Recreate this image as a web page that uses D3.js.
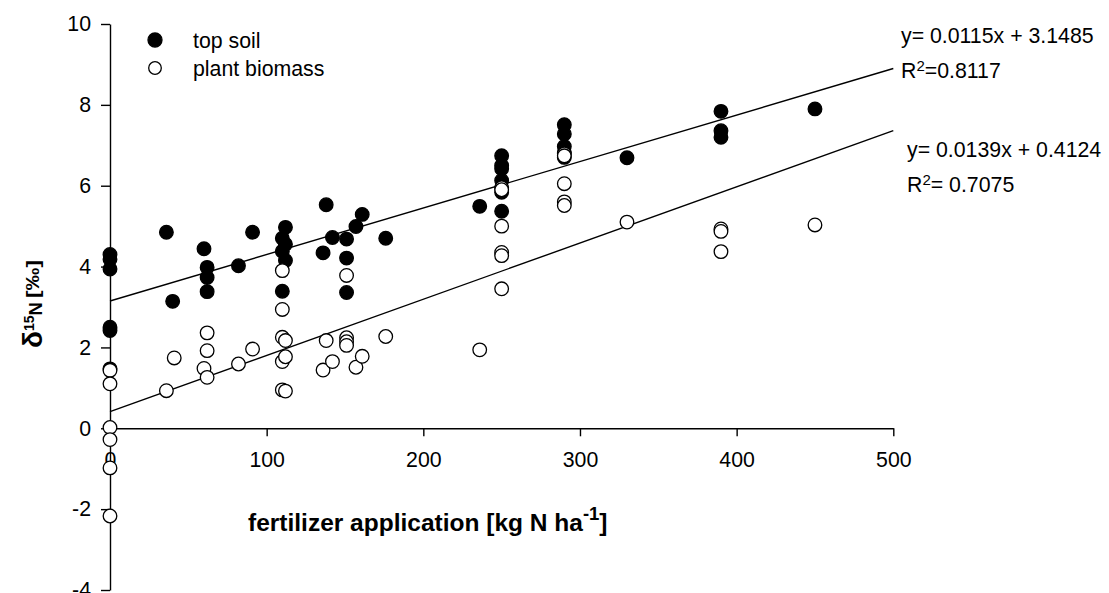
<!DOCTYPE html>
<html>
<head>
<meta charset="utf-8">
<script src="https://cdn.jsdelivr.net/npm/d3@7"></script>
<style>
  html, body { margin: 0; padding: 0; background: #fff; }
  svg { display: block; font-family: "Liberation Sans", Arial, sans-serif; }
</style>
</head>
<body>
<svg id="chart" width="1109" height="593"></svg>
<script>
// Fertilizer rate (kg N/ha) and δ15N (‰) for top soil samples
const soilN   = [0, 0, 0, 0, 0, 0, 36, 40, 60, 62, 62, 62, 82, 91, 110, 110, 110, 112, 112, 112,
                 136, 138, 142, 151, 151, 151, 157, 161, 176, 236,
                 250, 250, 250, 250, 250, 250, 290, 290, 290, 290, 290, 330, 390, 390, 390, 450];
const soilD15 = [4.30, 4.18, 3.94, 2.50, 2.42, 1.47, 4.85, 3.14, 4.44, 3.98, 3.73, 3.38, 4.02, 4.85,
                 4.70, 4.38, 3.39, 4.97, 4.55, 4.15,
                 4.34, 5.53, 4.72, 4.68, 4.21, 3.36, 4.99, 5.29, 4.70, 5.49,
                 6.74, 6.50, 6.42, 6.13, 5.84, 5.37, 7.51, 7.28, 6.97, 6.83, 6.70, 6.69, 7.84, 7.36, 7.20, 7.90];

// Fertilizer rate (kg N/ha) and δ15N (‰) for plant biomass samples
const plantN   = [0, 0, 0, 0, 0, 0, 36, 41, 60, 62, 62, 62, 82, 91, 110, 110, 110, 110, 110, 112, 112, 112,
                  136, 138, 142, 151, 151, 151, 151, 157, 161, 176, 236,
                  250, 250, 250, 250, 250, 250, 290, 290, 290, 290, 290, 330, 390, 390, 390, 450];
const plantD15 = [1.43, 1.10, 0.02, -0.28, -0.98, -2.17, 0.93, 1.74, 1.48, 2.36, 1.92, 1.26, 1.59, 1.96,
                  3.90, 2.94, 2.25, 1.65, 0.95, 2.17, 1.77, 0.92,
                  1.44, 2.17, 1.65, 3.78, 2.24, 2.14, 2.05, 1.51, 1.78, 2.27, 1.94,
                  5.95, 5.90, 5.00, 4.35, 4.27, 3.45, 6.79, 6.74, 6.05, 5.60, 5.51, 5.10, 4.93, 4.87, 4.37, 5.03];

// Linear fits: slope, intercept, R²
const soilFit  = { slope: 0.0115, intercept: 3.1485, r2: "0.8117" };
const plantFit = { slope: 0.0139, intercept: 0.4124, r2: "0.7075" };

const xTicks = [0, 100, 200, 300, 400, 500];
const yTicks = [-4, -2, 0, 2, 4, 6, 8, 10];

const seriesNames = ["top soil", "plant biomass"];

const svg = d3.select("#chart");
svg.append("rect").attr("width", 1109).attr("height", 593).attr("fill", "#fff");

const x = d3.scaleLinear().domain([0, 500]).range([110, 893.3]);
const y = d3.scaleLinear().domain([-4, 10]).range([590, 24]);

const tickFont = 21.3;
const plainNum = d => String(d);   // plain hyphen for negatives

// Y axis
const yAxis = svg.append("g")
  .attr("transform", `translate(${x(0)},0)`)
  .call(d3.axisLeft(y).tickValues(yTicks).tickSize(9).tickSizeOuter(0).tickPadding(10)
        .tickFormat(plainNum));
// X axis along y = 0
const xAxis = svg.append("g")
  .attr("transform", `translate(0,${y(0)})`)
  .call(d3.axisBottom(x).tickValues(xTicks).tickSize(8).tickSizeOuter(0).tickPadding(16)
        .tickFormat(plainNum));

[yAxis, xAxis].forEach(g => {
  g.select(".domain").attr("stroke", "#000").attr("stroke-width", 1.4);
  g.selectAll(".tick line").attr("stroke", "#000").attr("stroke-width", 1.4);
  g.selectAll(".tick text").attr("fill", "#000")
    .style("font-size", tickFont + "px")
    .style("font-family", "'Liberation Sans', Arial, sans-serif");
});

// Regression lines
const lineGen = d3.line().x(d => x(d[0])).y(d => y(d[1]));
[soilFit, plantFit].forEach(f => {
  svg.append("path")
    .datum([[0, f.intercept], [500, f.intercept + f.slope * 500]])
    .attr("d", lineGen)
    .attr("fill", "none")
    .attr("stroke", "#000")
    .attr("stroke-width", 1.4);
});

// Points: soil first, plant biomass on top
const r = 6.8;
svg.append("g").selectAll("circle")
  .data(soilN.map((n, i) => [n, soilD15[i]]))
  .join("circle")
  .attr("cx", d => x(d[0])).attr("cy", d => y(d[1])).attr("r", r)
  .attr("fill", "#000").attr("stroke", "#000").attr("stroke-width", 1.3);

svg.append("g").selectAll("circle")
  .data(plantN.map((n, i) => [n, plantD15[i]]))
  .join("circle")
  .attr("cx", d => x(d[0])).attr("cy", d => y(d[1])).attr("r", r)
  .attr("fill", "#fff").attr("stroke", "#000").attr("stroke-width", 1.3);

// Legend
const legend = svg.append("g");
seriesNames.forEach((name, i) => {
  const cy = 40 + i * 28;
  legend.append("circle").attr("cx", 155).attr("cy", cy).attr("r", i === 0 ? 7 : 6.3)
    .attr("fill", i === 0 ? "#000" : "#fff").attr("stroke", "#000").attr("stroke-width", 1.3);
  legend.append("text").attr("x", 193).attr("y", cy + 7.5)
    .style("font-size", "21.3px").text(name);
});

// Fit equations
function equation(xPos, yBase, fit, gap) {
  const g = svg.append("g").style("font-size", "21.3px");
  g.append("text").attr("x", xPos).attr("y", yBase)
    .text(`y= ${fit.slope}x + ${fit.intercept}`);
  const t = g.append("text").attr("x", xPos).attr("y", yBase + 35);
  t.append("tspan").text("R");
  t.append("tspan").attr("dy", -7).style("font-size", "15px").text("2");
  t.append("tspan").attr("dy", 7).text("=" + gap + fit.r2);
}
equation(901, 43, soilFit, "");
equation(907, 157, plantFit, " ");

// X axis title
const xt = svg.append("text").attr("x", 248).attr("y", 531)
  .style("font-size", "24.5px").style("font-weight", "bold");
xt.append("tspan").text("fertilizer application [kg N ha");
xt.append("tspan").attr("dy", -11).style("font-size", "18.5px").text("-1");
xt.append("tspan").attr("dy", 11).text("]");

// Y axis title (rotated, reads bottom to top)
const yTitle = svg.append("g")
  .attr("transform", "translate(42,0) rotate(-90)")
  .style("font-weight", "bold");
const yt = yTitle.append("text").attr("x", -348).attr("y", 0);
yt.append("tspan").style("font-size", "28px").text("δ");
yt.append("tspan").attr("dy", -8).style("font-size", "14px").text("15");
yt.append("tspan").attr("dy", 8).style("font-size", "18.5px").text("N");
yTitle.append("text").attr("x", -298).attr("y", -3)
  .style("font-size", "18px")
  .attr("textLength", 38).attr("lengthAdjust", "spacingAndGlyphs")
  .text("[‰]");
</script>
</body>
</html>
